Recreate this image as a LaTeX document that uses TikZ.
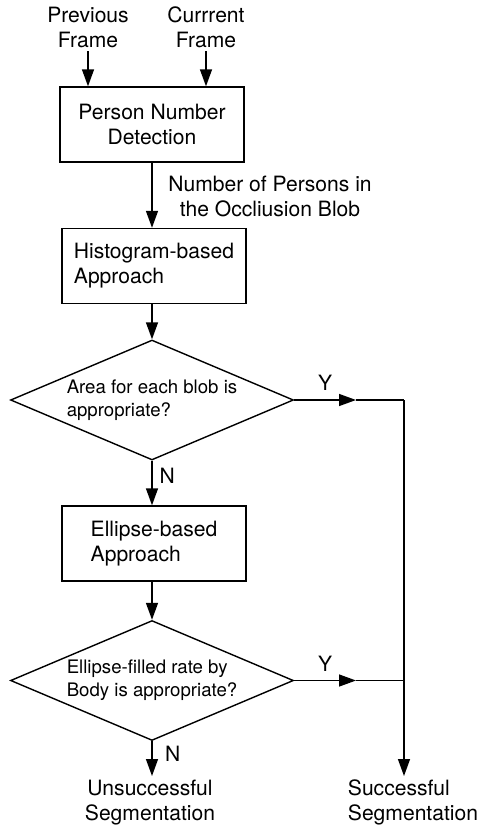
\documentclass[tikz,border=0pt]{standalone}
\usepackage{fontspec}
\setmainfont{TeX Gyre Heros}
\usetikzlibrary{shapes.geometric, arrows.meta, positioning, calc}
\tikzset{
  proc/.style={rectangle, draw, line width=0.8pt,
               minimum width=3.68cm, minimum height=1.5cm,
               inner sep=2pt, font=\fontsize{12}{14.2}\selectfont},
  decide/.style={diamond, draw, line width=0.8pt,
                 minimum width=5.66cm, minimum height=2.4cm,
                 shape aspect=2.36, inner sep=0pt, align=left,
                 font=\fontsize{10.6}{13}\selectfont},
  txt/.style={align=center, inner sep=2pt,
              font=\fontsize{12}{14.2}\selectfont},
  yn/.style={inner sep=2pt, font=\fontsize{12}{14.2}\selectfont},
  arr/.style={-{Triangle[length=3.4mm, width=2.4mm]}, line width=0.8pt},
  ln/.style={line width=0.8pt},
}
\begin{document}
\begin{tikzpicture}[x=0.02cm, y=-0.02cm]
  \useasboundingbox (0,0) rectangle (480,829);
  % inputs
  \node[txt] (prev) at (88,27) {Previous\\Frame};
  \node[txt] (curr) at (206,27) {Currrent\\Frame};
  % main column
  \node[proc, align=center] (pnd) at (152,124.5) {Person Number\\Detection};
  \node[txt] (nop) at (270,196.5) {Number of Persons in\\the Occliusion Blob};
  \node[proc, align=left] (hist) at (154,266) {Histogram-based\\Approach};
  \node[decide] (area) at (152,400) {Area for each blob is\\appropriate?};
  \node[proc, align=left] (ell) at (154,543.5) {Ellipse-based\\Approach};
  \node[decide] (rate) at (152,680.5) {Ellipse-filled rate by\\Body is appropriate?};
  % outcomes
  \node[txt, anchor=north] (fail) at (150,776) {Unsuccessful\\Segmentation};
  \node[txt, align=left, anchor=north] (succ) at (413,776) {Successful\\Segmentation};
  \coordinate (y1) at (356,400);
  \coordinate (j1) at (404,400);
  \coordinate (y2) at (356,680.5);

  \draw[arr] (prev.south) -- (prev.south |- pnd.north);
  \draw[arr] (curr.south) -- (curr.south |- pnd.north);
  \draw[arr] (pnd.south) -- (pnd.south |- hist.north);
  \draw[arr] (area.north |- hist.south) -- (area.north);
  \draw[arr] (area.south) -- node[yn, right=2pt, pos=0.33] {N} (area.south |- ell.north);
  \draw[arr] (rate.north |- ell.south) -- (rate.north);
  \draw[arr] (rate.south) -- node[yn, right=5pt, pos=0.37] {N} (rate.south |- fail.north);
  \draw[arr] (area.east) -- node[yn, above=3pt] {Y} (y1);
  \draw[ln] (y1) -- (j1);
  \draw[arr] (rate.east) -- node[yn, above=3pt] {Y} (y2);
  \draw[ln] (y2) -- (y2 -| j1);
  \draw[arr] (j1) -- (j1 |- succ.north);
\end{tikzpicture}
\end{document}
